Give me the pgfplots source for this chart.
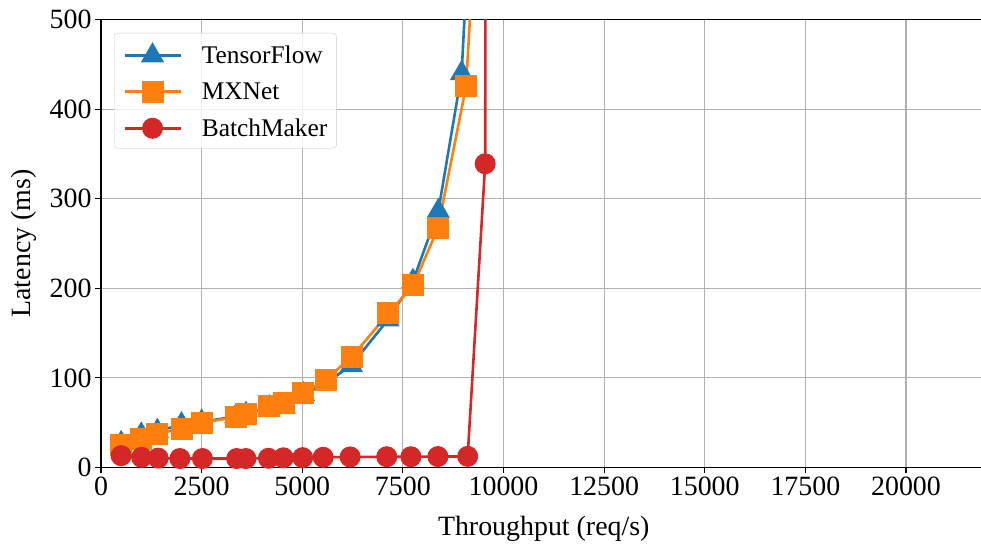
\documentclass[border=0pt]{standalone}
\usepackage{fontspec}
\setmainfont{Liberation Serif}
\usepackage{pgfplots}
\pgfplotsset{compat=1.18}
\usetikzlibrary{calc}
\definecolor{tfblue}{HTML}{1F77B4}
\definecolor{mxorange}{HTML}{FF7F0E}
\definecolor{bmred}{HTML}{D62728}
\definecolor{gridgray}{HTML}{B0B0B0}
\begin{document}
\begin{tikzpicture}
\path[use as bounding box] (0,0) rectangle (981bp,544bp);
\begin{axis}[
  at={(101bp,76.5bp)}, anchor=south west,
  scale only axis, width=885.5bp, height=448bp,
  xmin=0, xmax=22000, ymin=0, ymax=500,
  xtick={0,2500,...,20000}, ytick={0,100,...,500},
  scaled x ticks=false, scaled y ticks=false,
  /pgf/number format/1000 sep={},
  /pgf/number format/assume math mode=true,
  tick label style={font=\fontsize{28}{30}\selectfont},
  label style={font=\fontsize{28}{30}\selectfont},
  tick pos=left, tick align=outside, major tick length=6bp,
  tick style={black, line width=1.1bp},
  axis line style={black, line width=1.1bp},
  grid=major, grid style={gridgray, line width=1.1bp},
  xlabel={Throughput (req/s)},
  ylabel={Latency (ms)},
  xlabel style={at={($(axis description cs:0.5,0)+(0,-67.5bp)$)}, anchor=base},
  ylabel style={at={($(axis description cs:0,0.5)+(-70.5bp,0)$)}, anchor=base, rotate=0},
  legend style={at={(axis description cs:0.0147,0.9699)}, anchor=north west,
    draw=black!20, fill=white, fill opacity=0.8, text opacity=1,
    rounded corners=3bp, font=\fontsize{25.5}{28}\selectfont,
    inner xsep=9bp, inner ysep=10bp, column sep=20bp, row sep=16bp,
    nodes={inner sep=0bp}},
  legend cell align=left,
  legend image code/.code={\draw[fill opacity=1, draw opacity=1, mark repeat=2,mark phase=2] plot coordinates {(0bp,0bp) (28bp,0bp) (56bp,0bp)};},
]
\addplot[tfblue, line width=2.6bp, mark=triangle*, mark size=12.5bp, mark options={solid, fill=tfblue, draw=tfblue, line width=1bp}] coordinates {
(500,27) (1000,36.5) (1400,40.5) (2000,48) (2500,51) (3350,57) (3600,59.5) (4180,67) (4550,68) (5030,81.5) (5560,93.5) (6220,114) (7130,165) (7750,208) (8380,286) (8960,440) (9600,1000)
};
\addlegendentry{TensorFlow}
\addplot[mxorange, line width=2.6bp, mark=square*, mark size=10.5bp, mark options={solid, fill=mxorange, draw=mxorange, line width=1bp}] coordinates {
(500,24.6) (1000,32) (1400,37.7) (2000,43.3) (2500,50) (3350,56.3) (3600,59.3) (4180,68.2) (4550,71.6) (5030,83.1) (5580,98.1) (6230,123.4) (7140,172) (7760,203.6) (8370,267) (9070,425.4) (9800,1000)
};
\addlegendentry{MXNet}
\addplot[bmred, line width=2.6bp, mark=*, mark size=10bp, mark options={solid, fill=bmred, draw=bmred, line width=1bp}] coordinates {
(500,13.2) (1010,11.3) (1420,10.5) (1960,10) (2520,10) (3370,10) (3600,10) (4160,10.3) (4530,10.8) (5010,11) (5520,11.4) (6190,11.8) (7100,12) (7700,12) (8370,12.2) (9110,12.4) (9545,339) (9570,1000)
};
\addlegendentry{BatchMaker}
\end{axis}
\end{tikzpicture}
\end{document}
